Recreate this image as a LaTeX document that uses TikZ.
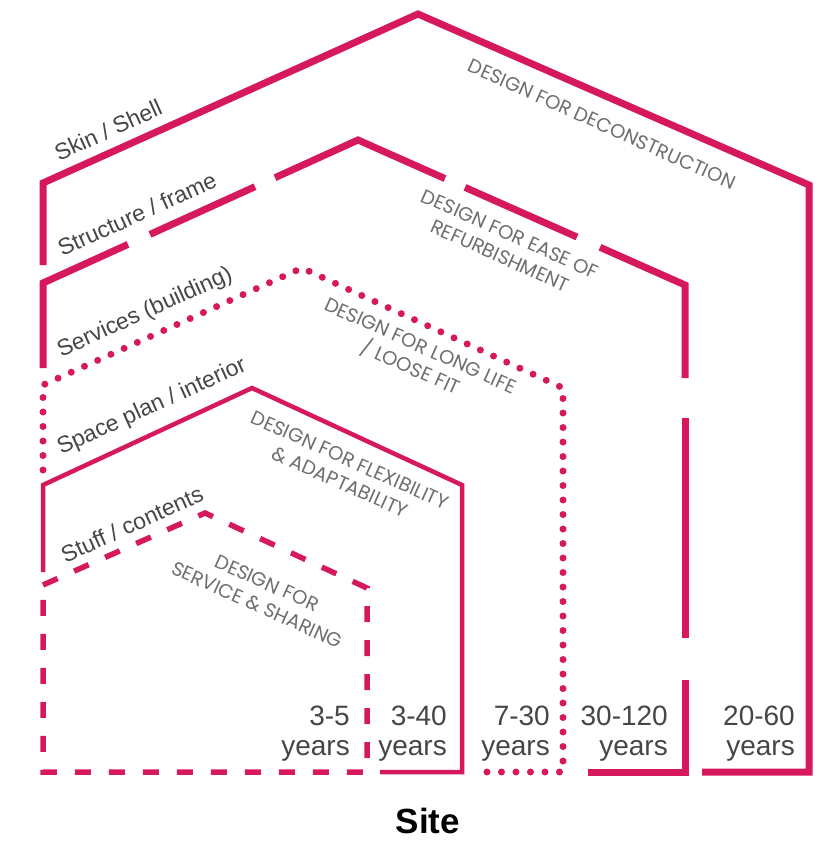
\documentclass[tikz,border=0pt]{standalone}
\usepackage{fontspec}
\setmainfont{Liberation Sans}
\newfontfamily\geofont{Poppins}
\definecolor{pk}{RGB}{214,24,94}
\definecolor{lbl}{RGB}{70,70,70}
\definecolor{dsg}{RGB}{110,110,110}
\tikzset{
  thickline/.style={draw=pk, line width=7pt, line join=miter, line cap=butt},
  dotline/.style={draw=pk, line width=7pt, line cap=round, dash pattern=on 0pt off 14.5pt},
  thinline/.style={draw=pk, line width=4.5pt, line join=miter},
  dashline/.style={draw=pk, line width=5.5pt, dash pattern=on 16pt off 18pt},
  layerlbl/.style={text=lbl, font=\fontsize{23}{26}\selectfont, rotate=24.4, inner sep=0pt},
  dsglbl/.style={text=dsg, font=\geofont\fontsize{19.5}{24}\selectfont, rotate=-24.2, align=center, inner sep=0pt},
  yrs/.style={text=lbl, font=\fontsize{28}{30}\selectfont, align=right, anchor=south east, inner sep=0pt}
}
\begin{document}
\begin{tikzpicture}[x=1pt,y=-1pt]
\useasboundingbox (0,0) rectangle (818,841);
% Skin / Shell
\draw[thickline] (43,265) -- (43,183) -- (418,14) -- (809,185) -- (809,772) -- (702,772);
% Structure / frame (broken)
\draw[thickline] (43,368) -- (43,283) -- (128,244.4);
\draw[thickline] (150,234.4) -- (255,186.7);
\draw[thickline] (275,177.7) -- (358,140) -- (445,178.6);
\draw[thickline] (465,187.4) -- (577,237);
\draw[thickline] (600,247.3) -- (685,285) -- (685,378);
\draw[thickline] (685,418) -- (685,638);
\draw[thickline] (685,680) -- (685,772) -- (588,772);
% Services (dotted)
\draw[dotline] (43,470) -- (43,385) -- (302,268) -- (563,388) -- (563,772) -- (475,772);
% Space plan
\draw[thinline] (43,572) -- (43,485) -- (252,388) -- (462,485) -- (462,772) -- (380,772);
% Stuff (dashed)
\draw[dashline] (43,585) -- (205,513) -- (367,588) -- (367,772) -- (43,772) -- cycle;
% layer labels
\node[layerlbl] (skin) at (108,130) {Skin / Shell};
\node[layerlbl] (struct) at (137,214) {Structure / frame};
\node[layerlbl] (serv) at (145,313) {Services (building)};
\node[layerlbl] (space) at (152,407) {Space plan / interior};
\node[layerlbl] (stuff) at (132,524) {Stuff / contents};
% design labels
\node[dsglbl] (d1) at (602,124) {DESIGN FOR DECONSTRUCTION};
\node[dsglbl] (d2) at (505,245) {DESIGN FOR EASE OF\\REFURBISHMENT};
\node[dsglbl] (d3) at (415,358) {DESIGN FOR LONG LIFE\\/ LOOSE FIT};
\node[dsglbl] (d4) at (345,471) {DESIGN FOR FLEXIBILITY\\\& ADAPTABILITY};
\node[dsglbl] (d5) at (262,594) {DESIGN FOR\\SERVICE \& SHARING};
% years
\node[yrs] (y1) at (350,762) {3-5\\years};
\node[yrs] (y2) at (447,762) {3-40\\years};
\node[yrs] (y3) at (550,762) {7-30\\years};
\node[yrs] (y4) at (668,762) {30-120\\years};
\node[yrs] (y5) at (795,762) {20-60\\years};
% site
\node[font=\bfseries\fontsize{35}{40}\selectfont, text=black, inner sep=0pt] (site) at (428,821) {Site};
\end{tikzpicture}
\end{document}
